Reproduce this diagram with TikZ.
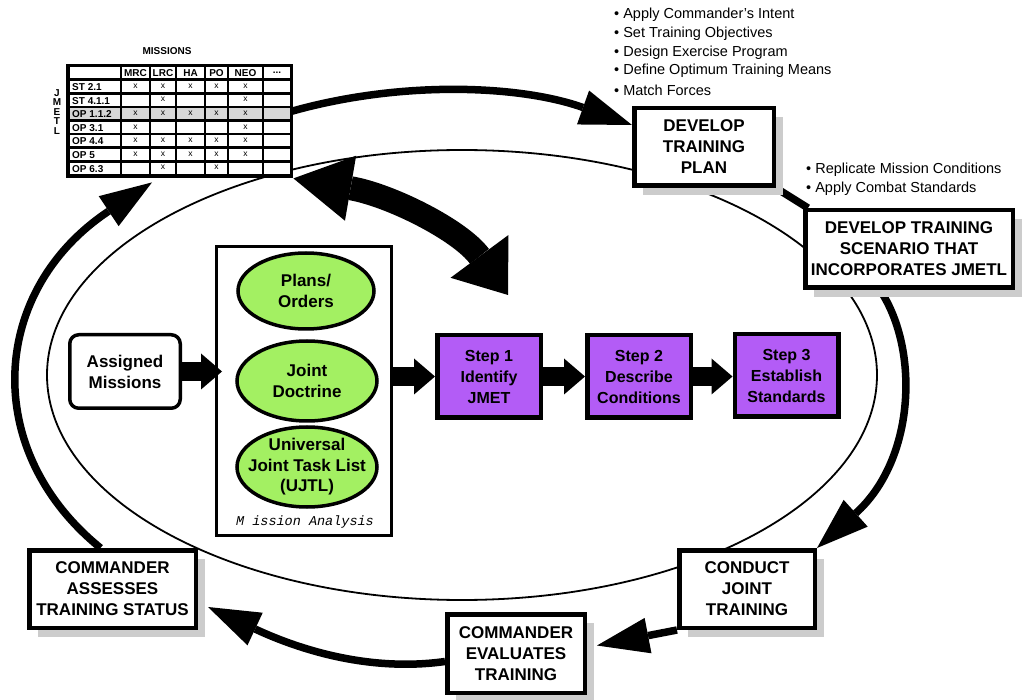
\documentclass[tikz,border=0pt]{standalone}
\usepackage{fontspec}
\setmainfont{Liberation Sans}
\newfontfamily\courfont{Liberation Mono}
\usetikzlibrary{arrows.meta,shapes.geometric,shadows,calc}
\pgfdeclarelayer{bg}
\pgfsetlayers{bg,main}
\definecolor{shadowc}{RGB}{204,204,204}
\definecolor{ellc}{RGB}{163,240,98}
\definecolor{stepc}{RGB}{179,92,246}
\definecolor{rowc}{RGB}{215,215,215}
\newcommand\tabdots{...}
\begin{document}
\begin{tikzpicture}[x=1pt,y=-1pt,
  bigbox/.style={draw, line width=4.5pt, fill=white, align=center, inner sep=0pt,
    font=\bfseries\fontsize{17}{21}\selectfont,
    drop shadow={shadow xshift=9pt,shadow yshift=-9pt,fill=shadowc,opacity=1}},
  stepbox/.style={draw, line width=4.5pt, fill=stepc, align=center, inner sep=0pt,
    minimum width=103.5pt, minimum height=82.5pt, font=\bfseries\fontsize{16}{21}\selectfont},
  greenell/.style={ellipse, draw, line width=3.5pt, fill=ellc, inner sep=0pt},
  elltext/.style={align=center, inner sep=0pt, font=\bfseries\fontsize{17}{20.5}\selectfont},
  loopline/.style={line width=7.5pt},
  looptip/.style={-{Triangle[length=52pt,width=36pt,line width=0pt]}},
  blockarrow/.style={line width=19pt, -{Triangle[length=21pt,width=36pt,line width=0pt]}},
  bulletline/.style={anchor=west, inner sep=0pt, font=\fontsize{14.5}{17}\selectfont},
  rowlbl/.style={anchor=west, inner sep=0pt, font=\bfseries\fontsize{10}{10}\selectfont},
  hdr/.style={inner sep=0pt, font=\bfseries\fontsize{10}{10}\selectfont},
  xmark/.style={inner sep=0pt, font=\fontsize{8.5}{8.5}\selectfont},
]
\useasboundingbox (0,0) rectangle (1031,700);

% ---------- boxes ----------
\node[bigbox, minimum width=139.5pt, minimum height=77.5pt] (plan) at (704,147) {DEVELOP\\TRAINING\\PLAN};
\node[bigbox, minimum width=207.5pt, minimum height=77.5pt] (scen) at (909,249) {DEVELOP TRAINING\\SCENARIO THAT\\INCORPORATES JMETL};
\node[bigbox, minimum width=135.5pt, minimum height=77.5pt] (conduct) at (747,589) {CONDUCT\\JOINT\\TRAINING};
\node[bigbox, minimum width=137.5pt, minimum height=78.5pt] (eval) at (516,653.5) {COMMANDER\\EVALUATES\\TRAINING};
\node[bigbox, minimum width=166.5pt, minimum height=77.5pt] (assess) at (112.5,589) {COMMANDER\\ASSESSES\\TRAINING STATUS};

\node[draw, line width=3.5pt, rounded corners=9pt, fill=white, align=center, inner sep=0pt,
  minimum width=110.5pt, minimum height=73.5pt, font=\bfseries\fontsize{17}{21}\selectfont]
  (assigned) at (125,371.5) {Assigned\\Missions};

\node[draw, line width=3pt, fill=white, minimum width=175pt, minimum height=289pt, inner sep=0pt] (mission) at (304,391) {};
\node[greenell, minimum width=136pt, minimum height=76pt] (plans) at (306,291) {};
\node[elltext] (planstxt) at (plans) {Plans/\\Orders};
\node[greenell, minimum width=140pt, minimum height=80pt] (doctrine) at (307,381) {};
\node[elltext] (doctrinetxt) at (doctrine) {Joint\\Doctrine};
\node[greenell, minimum width=140pt, minimum height=80pt] (ujtl) at (307,467) {};
\node[elltext] (ujtltxt) at (ujtl) {Universal\\Joint Task List\\(UJTL)};
\node[inner sep=0pt, font=\courfont\itshape\fontsize{13.5}{13.5}\selectfont] (matxt) at (305,522) {M ission Analysis};

\node[stepbox] (step1) at (489,376.5) {Step 1\\Identify\\JMET};
\node[stepbox] (step2) at (639,376.5) {Step 2\\Describe\\Conditions};
\node[stepbox] (step3) at (786.5,375.5) {Step 3\\Establish\\Standards};

% ---------- block arrows ----------
\draw[blockarrow, shorten >=-7pt] (assigned.east) -- (assigned.east -| mission.west);
\draw[blockarrow] (mission.east |- step1.west) -- (step1.west);
\draw[blockarrow] (step1.east) -- (step2.west);
\draw[blockarrow] (step2.east) -- (step3.west |- step2.east);

% ---------- JMETL table ----------
\node[fill=black, inner sep=0pt, minimum width=227pt, minimum height=114pt, anchor=north west] (table) at (66,64) {};
\node[inner sep=0pt, font=\bfseries\fontsize{10}{10}\selectfont] (missions) at (167,51) {MISSIONS};
\foreach \l/\yy [count=\k] in {J/93,M/102,E/112,T/121,L/131}
  {\node[inner sep=0pt, font=\bfseries\fontsize{10}{10}\selectfont] (jm\k) at (57,\yy) {\l};}
\foreach \xa/\xb/\h [count=\k] in {70/120/{},122/149/MRC,151/175/LRC,177/204/HA,206/227/PO,229/262/NEO,264/290/\tabdots}
  {\fill[white] (\xa,67.5) rectangle (\xb,78.5);
   \node[hdr] (h\k) at ({(\xa+\xb)/2},73) {\h};}
\foreach \r in {1,...,7}{
  \pgfmathsetmacro\yt{67.5+13.6*\r}
  \pgfmathsetmacro\yb{\yt+11}
  \ifnum\r=3 \def\cc{rowc}\else\def\cc{white}\fi
  \foreach \xa/\xb in {70/120,122/149,151/175,177/204,206/227,229/262,264/290}
    {\fill[\cc] (\xa,\yt) rectangle (\xb,\yb);}
}
\foreach \r/\lbl/\xs in {1/ST 2.1/{135.5,163,190.5,216.5,245.5},2/ST 4.1.1/{163,245.5},3/OP 1.1.2/{135.5,163,190.5,216.5,245.5},4/OP 3.1/{135.5,245.5},5/OP 4.4/{135.5,163,190.5,216.5,245.5},6/OP 5/{135.5,163,190.5,216.5,245.5},7/OP 6.3/{163,216.5}}{
  \node[rowlbl] (lbl\r) at (72,{73.5+13.6*\r}) {\lbl};
  \foreach \cx [count=\k] in \xs {\node[xmark] (x\r-\k) at (\cx,{72.5+13.6*\r}) {x};}
}

% ---------- bullet texts ----------
\foreach \t/\yy [count=\k] in {Apply Commander’s Intent/15,Set Training Objectives/34,Design Exercise Program/53,Define Optimum Training Means/71,Match Forces/90}
  {\node[bulletline] (tb\k) at (614,\yy) {• \t};}
\node[bulletline] (sb1) at (806,170) {• Replicate Mission Conditions};
\node[bulletline] (sb2) at (806,189) {• Apply Combat Standards};

\coordinate (mtip) at (508,295);

% ---------- background: ellipse and loop ----------
\begin{pgfonlayer}{bg}
\draw[line width=1.8pt] (462,375) ellipse [x radius=415, y radius=225];
\draw[loopline, looptip] ($(assess.north)+(-12,0)$) .. controls (-20,450) and (-10,290) .. ($(table.south west)+(86,4)$);
\draw[loopline, looptip] ($(table.east)+(-5,-9)$) .. controls (400,80) and (520,85) .. ($(plan.west)+(0,-22)$);
\draw[loopline] (plan.south east) -- ($(scen.north west)+(5,0)$);
\draw[loopline, looptip] ($(scen.south)+(-29,0)$) .. controls (920,350) and (915,460) .. (conduct.north east);
\draw[loopline, looptip] (conduct.south west) -- ($(eval.east)+(10,-8)$);
\draw[loopline, looptip] ($(eval.west)+(0,8)$) .. controls (370,672) and (300,650) .. ($(assess.east)+(10,18)$);
\draw[line width=24pt, {Triangle[length=58pt,width=66pt,line width=0pt]}-{Triangle[length=48pt,width=72pt,line width=0pt]}]
  (table.south east) .. controls (390,195) and (460,230) .. (mtip);
\end{pgfonlayer}
\end{tikzpicture}
\end{document}
